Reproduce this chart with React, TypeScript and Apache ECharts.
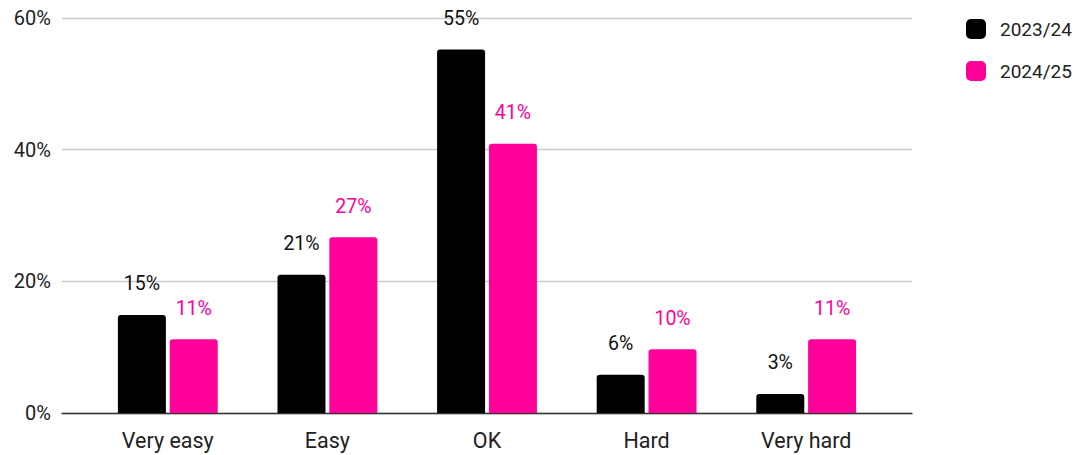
import React, { useEffect, useRef } from "react";
import * as echarts from "echarts";

const categories = ["Very easy", "Easy", "OK", "Hard", "Very hard"];
const series2324 = [14.9, 21.0, 55.2, 5.8, 2.9];
const series2425 = [11.2, 26.7, 40.9, 9.7, 11.2];
const seriesNames = ["2023/24", "2024/25"];
const yTicks = [0, 20, 40, 60];

const BLACK = "#000000";
const PINK = "#ff0099";
const FONT = "Roboto";

export default function App() {
  const ref = useRef<HTMLDivElement>(null);
  useEffect(() => {
    document.body.style.margin = "0";
    const chart = echarts.init(ref.current!, null, { renderer: "svg" });
    const label = (color: string) => ({
      show: true,
      position: "top",
      distance: 21,
      color,
      fontFamily: FONT,
      fontSize: 19.5,
      formatter: (p: any) => Math.round(p.value) + "%",
    });
    chart.setOption({
      animation: false,
      backgroundColor: "#ffffff",
      textStyle: { fontFamily: FONT },
      legend: {
        orient: "vertical",
        left: 966,
        top: 19,
        padding: 0,
        itemWidth: 20,
        itemHeight: 20,
        itemGap: 22,
        icon: "roundRect",
        data: seriesNames,
        textStyle: { fontFamily: FONT, fontSize: 19, color: "#222222", padding: [0, 0, 0, 9] },
      },
      grid: [
        { left: 62, right: 166, top: 18, bottom: 42 },
        { left: 88, right: 192, top: 18, bottom: 42 },
      ],
      xAxis: [
        {
          gridIndex: 0,
          type: "value",
          min: 0,
          max: 1,
          axisLine: { show: true, onZero: false, lineStyle: { color: "#333333", width: 1.3 } },
          axisTick: { show: false },
          axisLabel: { show: false },
          splitLine: { show: false },
        },
        {
          gridIndex: 1,
          type: "category",
          data: categories,
          axisLine: { show: false },
          axisTick: { show: false },
          axisLabel: { color: "#222222", fontFamily: FONT, fontSize: 21.5, margin: 16 },
        },
      ],
      yAxis: [
        {
          gridIndex: 0,
          type: "value",
          min: yTicks[0],
          max: yTicks[yTicks.length - 1],
          interval: 20,
          axisLine: { show: false },
          axisTick: { show: false },
          axisLabel: { formatter: "{value}%", color: "#222222", fontFamily: FONT, fontSize: 20, margin: 11 },
          splitLine: { lineStyle: { color: "#cccccc", width: 1.3 } },
        },
        {
          gridIndex: 1,
          type: "value",
          min: yTicks[0],
          max: yTicks[yTicks.length - 1],
          interval: 20,
          show: false,
          splitLine: { show: false },
        },
      ],
      series: [
        {
          name: seriesNames[0],
          type: "bar",
          xAxisIndex: 1,
          yAxisIndex: 1,
          data: series2324,
          barWidth: 48,
          barGap: "8%",
          itemStyle: { color: BLACK, borderRadius: [3, 3, 0, 0] },
          label: label("#111111"),
        },
        {
          name: seriesNames[1],
          type: "bar",
          xAxisIndex: 1,
          yAxisIndex: 1,
          data: series2425,
          barWidth: 48,
          barGap: "8%",
          itemStyle: { color: PINK, borderRadius: [3, 3, 0, 0] },
          label: label(PINK),
        },
      ],
    });
    return () => chart.dispose();
  }, []);
  return <div ref={ref} style={{ width: 1078, height: 455 }} />;
}
